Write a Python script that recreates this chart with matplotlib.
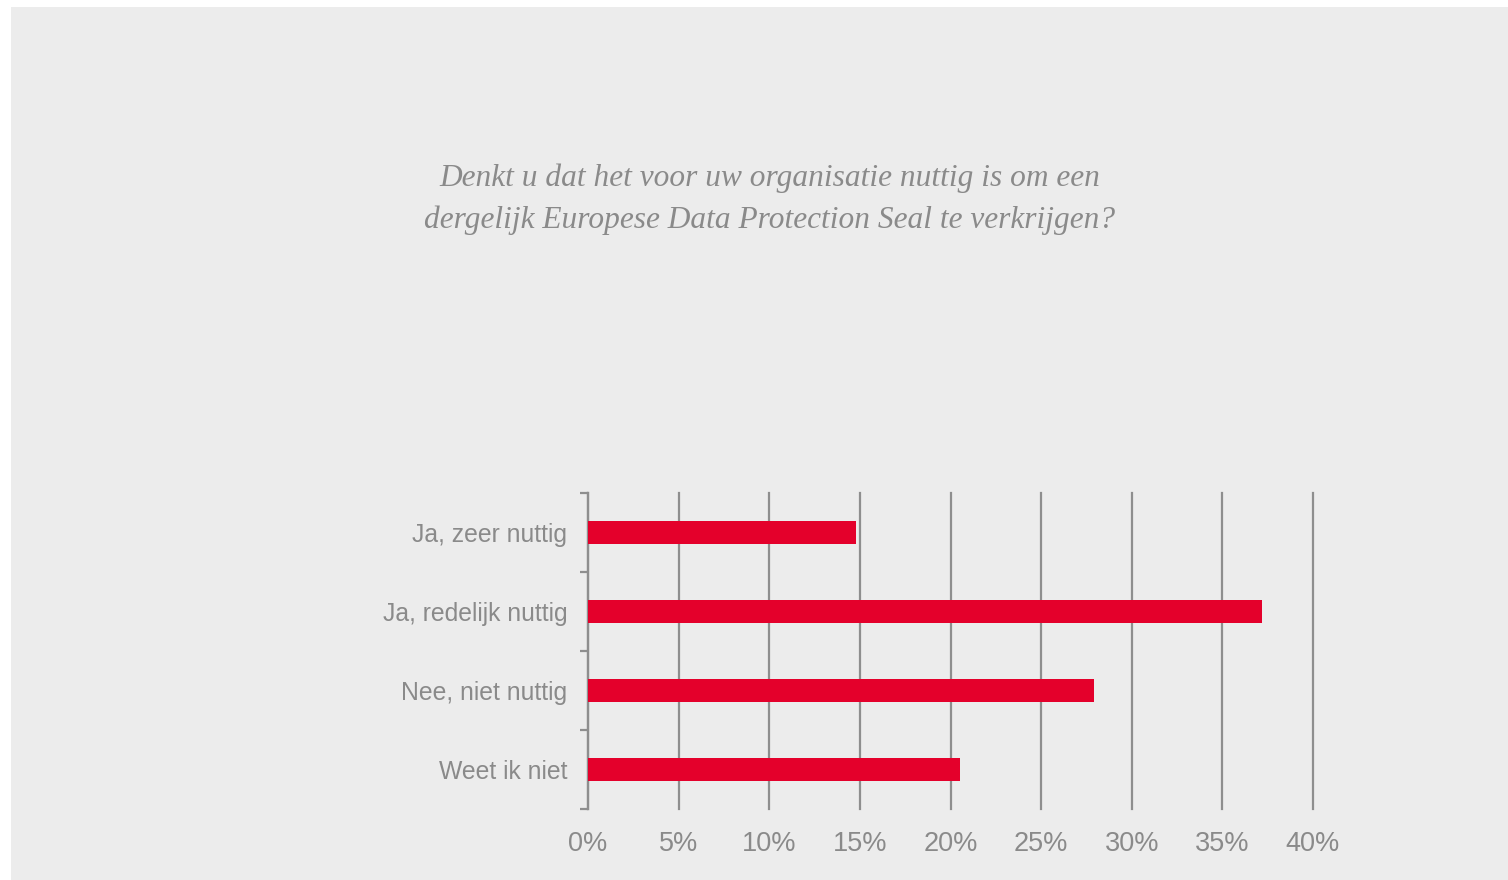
import matplotlib
matplotlib.use("Agg")
import matplotlib.pyplot as plt
from matplotlib.patches import Rectangle

categories = ["Ja, zeer nuttig", "Ja, redelijk nuttig", "Nee, niet nuttig", "Weet ik niet"]
values = [14.8, 37.2, 27.9, 20.5]
xticks = [0, 5, 10, 15, 20, 25, 30, 35, 40]
xticklabels = ["0%", "5%", "10%", "15%", "20%", "25%", "30%", "35%", "40%"]
title = "Denkt u dat het voor uw organisatie nuttig is om een\ndergelijk Europese Data Protection Seal te verkrijgen?"

BG = "#ececec"
RED = "#e4002b"
GRID = "#8e8e8e"
TXT = "#8a8a8a"

W, H = 1508, 880
fig = plt.figure(figsize=(W / 100, H / 100), dpi=100)
fig.patch.set_facecolor("white")
bg = Rectangle((11 / W, 0), 1 - 11 / W, 1 - 7 / H, transform=fig.transFigure,
               facecolor=BG, edgecolor="none", zorder=-10)
fig.add_artist(bg)

ax = fig.add_axes([588 / W, 1 - 809 / H, (1313 - 588) / W, (809 - 493) / H])
ax.set_zorder(5)
ax.set_facecolor(BG)
n = len(categories)
ypos = list(range(n))
ax.barh(ypos, values, height=0.28, color=RED, zorder=3)
ax.set_ylim(n - 0.5, -0.5)
ax.set_xlim(0, 40)
for x in xticks:
    ax.axvline(x, color=GRID, lw=1.6, zorder=2, clip_on=False)
for s in ["top", "right", "bottom"]:
    ax.spines[s].set_visible(False)
ax.spines["left"].set_color(GRID)
ax.spines["left"].set_linewidth(1.6)

ax.set_xticks(xticks)
ax.set_xticklabels(xticklabels, fontsize=19.5, color=TXT, family="Liberation Sans")
ax.tick_params(axis="x", length=0, pad=16)

ax.set_yticks(ypos)
ax.set_yticklabels(categories, fontsize=17.8, color=TXT, family="Liberation Sans")
ax.tick_params(axis="y", which="major", length=0, pad=15)
ax.set_yticks([i - 0.5 for i in range(n + 1)], minor=True)
ax.tick_params(axis="y", which="minor", length=6, width=1.6, color=GRID, direction="out")

fig.text(770 / W, 1 - 199 / H, title, ha="center", va="center", fontsize=22.6, style="italic",
         family="Liberation Serif", color=TXT, linespacing=1.55)

fig.savefig("out.png", dpi=100, facecolor=fig.get_facecolor())
